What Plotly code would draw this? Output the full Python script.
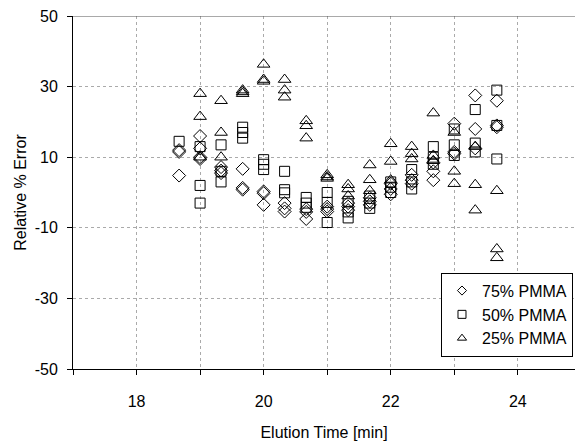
import plotly.graph_objects as go

# 75% PMMA (diamonds)
x75 = [18.67, 18.67, 18.67,
       19, 19, 19, 19,
       19.33, 19.33, 19.33,
       19.67, 19.67, 19.67,
       20, 20, 20,
       20.33, 20.33, 20.33,
       20.67, 20.67, 20.67,
       21, 21, 21,
       21.33, 21.33, 21.33,
       21.67, 21.67, 21.67,
       22, 22, 22,
       22.33, 22.33, 22.33,
       22.67, 22.67, 22.67,
       23, 23, 23,
       23.33, 23.33, 23.33,
       23.67, 23.67, 23.67]
y75 = [12, 11.5, 4.8,
       16, 12.5, 10, 9.5,
       7.2, 6.2, 5.5,
       6.7, 1.3, 0.8,
       0.3, -0.2, -3.5,
       -3, -4.5, -5.4,
       -4.7, -5.5, -7.5,
       -4, -4.7, -5.4,
       -3, -4, -5,
       -1.5, -2.5, -3.5,
       2.5, 1, -0.5,
       5, 3.5, 2.5,
       8.5, 6, 3.5,
       19.5, 11.5, 11,
       27.5, 18, 12.5,
       26, 19, 18.5]

# 50% PMMA (squares)
x50 = [18.67,
       19, 19, 19,
       19.33, 19.33, 19.33,
       19.67, 19.67, 19.67,
       20, 20, 20,
       20.33, 20.33, 20.33,
       20.67, 20.67, 20.67,
       21, 21, 21,
       21.33, 21.33, 21.33,
       21.67, 21.67, 21.67,
       22, 22, 22,
       22.33, 22.33, 22.33,
       22.67, 22.67, 22.67,
       23, 23, 23,
       23.33, 23.33, 23.33,
       23.67, 23.67, 23.67]
y50 = [14.5,
       13, 2, -3,
       13.5, 6, 3,
       18.5, 17, 15.4,
       9.3, 8, 6.5,
       6, 0.8, -0.1,
       -1.4, -3, -4.2,
       0, -2.8, -8.5,
       -2.5, -5.5, -7.2,
       -1, -3, -4.5,
       3, 1.5, 0,
       6.5, 3, 1,
       13, 10, 8,
       18, 13.5, 10.5,
       23.5, 14, 11.5,
       29, 19, 9.5]

# 25% PMMA (triangles)
x25 = [19, 19, 19,
       19.33, 19.33, 19.33,
       19.67, 19.67, 19.67,
       20, 20, 20,
       20.33, 20.33, 20.33,
       20.67, 20.67, 20.67,
       21, 21, 21,
       21.33, 21.33, 21.33,
       21.67, 21.67, 21.67,
       22, 22, 22,
       22.33, 22.33, 22.33,
       22.67, 22.67, 22.67,
       23, 23, 23,
       23.33, 23.33, 23.33,
       23.67, 23.67, 23.67]
y25 = [28, 21.5, 10,
       26, 17, 10,
       29, 28.5, 28,
       36.3, 32, 31.5,
       32, 29, 27,
       20.3, 18.9, 15.4,
       5, 4.4, 4,
       2.2, 1, -1,
       7.8, 3.6, 0.5,
       13.8, 8.8, 3.5,
       13, 11, 9.5,
       22.5, 10.5, 9,
       17, 6, 2.5,
       13, 2.2, -5,
       0.5, -16, -18.5]

names = ["75% PMMA", "50% PMMA", "25% PMMA"]
symbols = ["diamond-open", "square-open", "triangle-up-open"]
sizes = [10, 10, 11]
legend_sizes = [7, 8, 8]

x_tickvals = [17, 18, 19, 20, 21, 22, 23, 24]
x_ticktext = ["", "18", "", "20", "", "22", "", "24"]
y_tickvals = [50, 30, 10, -10, -30, -50]
y_ticktext = ["50", "30", "10", "-10", "-30", "-50"]

FONT = "Liberation Sans, Arial, sans-serif"

fig = go.Figure()
for xs, ys, nm, sym, sz in zip([x75, x50, x25], [y75, y50, y25], names, symbols, sizes):
    fig.add_trace(go.Scatter(
        x=xs, y=ys, mode="markers", name=nm, showlegend=False,
        marker=dict(symbol=sym, size=sz, color="black", line=dict(width=1, color="black")),
    ))
# legend-only entries with smaller symbols
for nm, sym, sz in zip(names, symbols, legend_sizes):
    fig.add_trace(go.Scatter(
        x=[None], y=[None], mode="markers", name=nm,
        marker=dict(symbol=sym, size=sz, color="black", line=dict(width=1, color="black")),
    ))

fig.add_shape(type="line", xref="paper", yref="y", x0=0, x1=1, y0=50, y1=50,
              line=dict(color="#555555", width=1))

fig.update_layout(
    width=575, height=441,
    margin=dict(l=73, r=0, t=16, b=72),
    paper_bgcolor="white", plot_bgcolor="white",
    font=dict(family=FONT, size=16, color="black"),
    showlegend=True,
    legend=dict(x=0.996, xanchor="right", y=0.035, yanchor="bottom",
                bgcolor="white", bordercolor="black", borderwidth=1,
                font=dict(size=16, family=FONT, color="black"),
                itemwidth=30, tracegroupgap=0),
    xaxis=dict(
        range=[17, 24.9], tickvals=x_tickvals, ticktext=x_ticktext,
        ticks="outside", ticklen=5, tickcolor="black",
        showline=True, linecolor="black", linewidth=1,
        showgrid=True, gridcolor="#aaaaaa", griddash="dot", gridwidth=1,
        zeroline=False, ticklabelstandoff=13,
        title=dict(text="Elution Time [min]", font=dict(size=16), standoff=18),
        tickfont=dict(size=16),
    ),
    yaxis=dict(
        range=[-50, 50], tickvals=y_tickvals, ticktext=y_ticktext,
        ticks="outside", ticklen=5, tickcolor="black",
        showline=True, linecolor="black", linewidth=1,
        showgrid=True, gridcolor="#aaaaaa", griddash="dot", gridwidth=1,
        zeroline=False, ticklabelstandoff=6,
        title=dict(text="Relative % Error", font=dict(size=16), standoff=4),
        tickfont=dict(size=16),
    ),
)

fig.write_html("out.html")
